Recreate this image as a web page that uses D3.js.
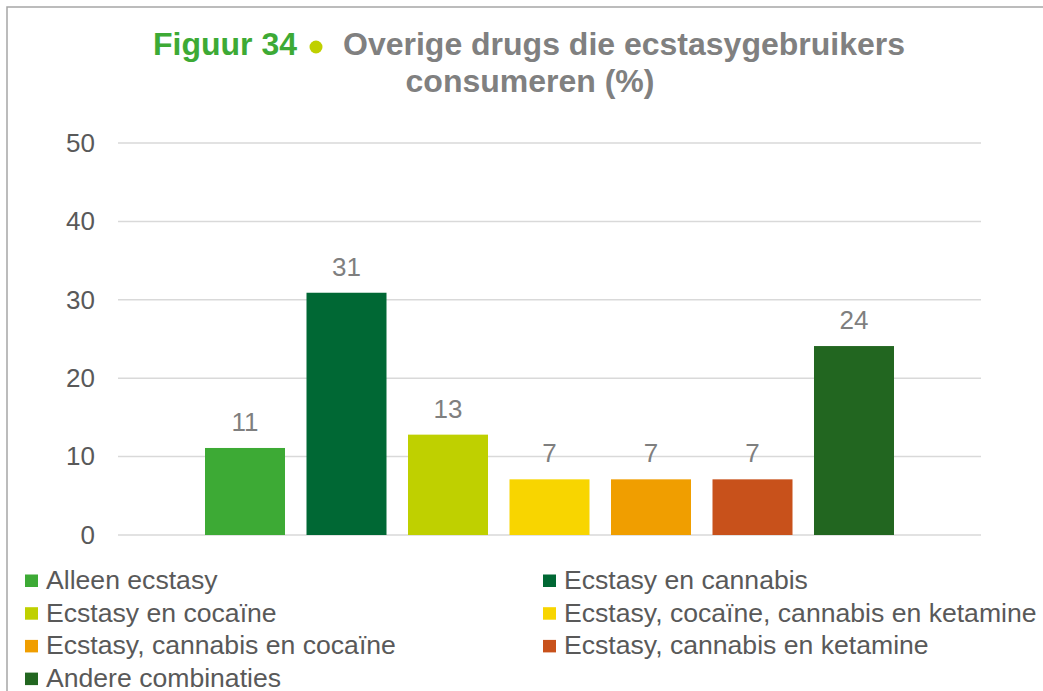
<!DOCTYPE html>
<html>
<head>
<meta charset="utf-8">
<script src="https://cdn.jsdelivr.net/npm/d3@7"></script>
<style>
  html, body { margin: 0; padding: 0; background: #ffffff; }
  svg { display: block; font-family: "Liberation Sans", Arial, sans-serif; }
</style>
</head>
<body>
<svg id="chart" width="1043" height="691"></svg>
<script>
const categories = [
  "Alleen ecstasy",
  "Ecstasy en cannabis",
  "Ecstasy en cocaïne",
  "Ecstasy, cocaïne, cannabis en ketamine",
  "Ecstasy, cannabis en cocaïne",
  "Ecstasy, cannabis en ketamine",
  "Andere combinaties"
];
const values = [11.1, 30.9, 12.8, 7.1, 7.1, 7.1, 24.1];
const colors = ["#3DAA35", "#006834", "#BFD000", "#F8D500", "#F09E00", "#C8511B", "#226620"];
const yTicks = [0, 10, 20, 30, 40, 50];
const titleParts = ["Figuur 34", "Overige drugs die ecstasygebruikers", "consumeren (%)"];

const svg = d3.select("#chart");

// outer border
svg.append("rect")
  .attr("x", 7).attr("y", 7).attr("width", 1100).attr("height", 750)
  .attr("fill", "none").attr("stroke", "#A6A6A6").attr("stroke-width", 1.5);

// title
const title = svg.append("g");
title.append("text")
  .attr("x", 153).attr("y", 55)
  .attr("font-size", 32).attr("font-weight", "bold").attr("fill", "#3DAA35")
  .text(titleParts[0]);
title.append("circle")
  .attr("cx", 316).attr("cy", 47).attr("r", 6.5).attr("fill", "#BFD000");
title.append("text")
  .attr("x", 343).attr("y", 55)
  .attr("font-size", 32).attr("font-weight", "bold").attr("fill", "#808080")
  .text(titleParts[1]);
title.append("text")
  .attr("x", 530).attr("y", 92).attr("text-anchor", "middle")
  .attr("font-size", 32).attr("font-weight", "bold").attr("fill", "#808080")
  .text(titleParts[2]);

// scales
const plotLeft = 118, plotRight = 981;
const y = d3.scaleLinear().domain([0, 50]).range([535, 143]);
const x = d3.scaleBand().domain(categories).range([205, 894]).paddingInner(0.2118).paddingOuter(0);

// gridlines
svg.append("g").selectAll("line").data(yTicks).join("line")
  .attr("x1", plotLeft).attr("x2", plotRight)
  .attr("y1", d => y(d)).attr("y2", d => y(d))
  .attr("stroke", "#D9D9D9").attr("stroke-width", 1.5);

// y axis labels
const yAxis = svg.append("g")
  .attr("transform", `translate(${plotLeft},0)`)
  .call(d3.axisLeft(y).tickValues(yTicks).tickSize(0).tickPadding(23));
yAxis.select(".domain").remove();
yAxis.selectAll("text")
  .attr("font-size", 26).attr("fill", "#595959")
  .attr("font-family", "'Liberation Sans', Arial, sans-serif");

// bars
svg.append("g").selectAll("rect").data(values).join("rect")
  .attr("x", (d, i) => x(categories[i]))
  .attr("width", x.bandwidth())
  .attr("y", d => y(d))
  .attr("height", d => y(0) - y(d))
  .attr("fill", (d, i) => colors[i]);

// data labels
svg.append("g").selectAll("text").data(values).join("text")
  .attr("x", (d, i) => x(categories[i]) + x.bandwidth() / 2)
  .attr("y", d => y(d) - 17)
  .attr("text-anchor", "middle")
  .attr("font-size", 26).attr("fill", "#7F7F7F")
  .text(d => d3.format(".0f")(d));

// legend
const colX = [25, 543];
const rowY0 = 589, rowH = 32.7;
const leg = svg.append("g").selectAll("g").data(categories).join("g")
  .attr("transform", (d, i) => `translate(${colX[i % 2]},${rowY0 + Math.floor(i / 2) * rowH})`);
leg.append("rect")
  .attr("x", 0).attr("y", -14.5).attr("width", 13).attr("height", 12.5)
  .attr("fill", (d, i) => colors[i]);
leg.append("text")
  .attr("x", 21).attr("y", 0)
  .attr("font-size", 26.6).attr("fill", "#595959")
  .text(d => d);
</script>
</body>
</html>
